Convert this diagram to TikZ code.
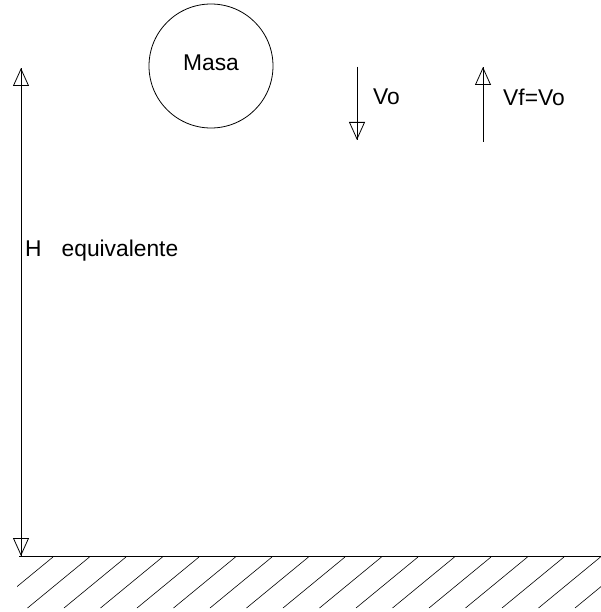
\documentclass[tikz,border=0pt]{standalone}
\usepackage{fontspec}
\setmainfont{Liberation Sans}
\usetikzlibrary{arrows.meta,positioning}

\begin{document}
\begin{tikzpicture}[
    x=1pt, y=-1pt,
    lbl/.style={font=\fontsize{22.8}{27}\selectfont, inner sep=0pt},
    masabox/.style={draw, circle, line width=0.8pt, minimum size=124pt,
                inner sep=0pt},
    arrow/.style={-{Triangle[open, length=18pt, width=16pt]}, line width=0.8pt},
    dblarrow/.style={{Triangle[open, length=18pt, width=16pt]}-{Triangle[open, length=18pt, width=16pt]},
                line width=0.8pt},
    shaft/.style={line width=0.8pt},
    ground/.style={line width=1pt},
    hatch/.style={line width=0.6pt}
]

\useasboundingbox (0,0) rectangle (601,612);

\node[masabox] (masa) at (211,66) {};
\node[lbl] (masalbl) at (211,63) {Masa};

\coordinate (htop) at (21,68);
\coordinate (hbot) at (21,556);
\draw[dblarrow] (hbot) -- (htop);
\draw[shaft] (hbot) -- (htop);
\node[lbl, anchor=west] (hlbl) at (25,251) {H\hspace{20pt}equivalente};

\coordinate (vostart) at (357,67);
\coordinate (voend) at (357,140);
\draw[arrow] (vostart) -- (voend);
\draw[shaft] (vostart) -- (voend);
\node[lbl, anchor=west] (vo) at (373,97) {Vo};

\coordinate (vfstart) at (483,142);
\coordinate (vfend) at (483,67);
\draw[arrow] (vfstart) -- (vfend);
\draw[shaft] (vfstart) -- (vfend);
\node[lbl, anchor=west] (vf) at (503,97) {Vf=Vo};

\coordinate (gleft) at (19,556);
\coordinate (gright) at (601,556);
\draw[ground] (gleft) -- (gright);

\begin{scope}
\clip (17,556) rectangle (601,610);
\foreach \k in {0,...,17}
    \draw[hatch] ({53+36.5*\k},557) -- ++(-62,51);
\end{scope}

\end{tikzpicture}
\end{document}
